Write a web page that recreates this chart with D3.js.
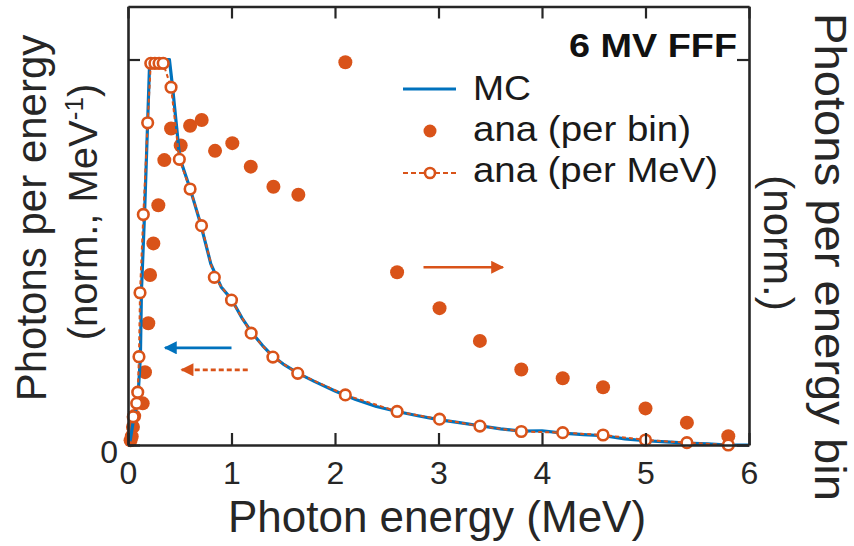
<!DOCTYPE html>
<html>
<head>
<meta charset="utf-8">
<script src="https://cdn.jsdelivr.net/npm/d3@7"></script>
<style>
  html, body { margin: 0; padding: 0; background: #fff; }
  svg { display: block; font-family: "Liberation Sans", Arial, sans-serif; }
</style>
</head>
<body>
<svg id="chart" width="854" height="546"></svg>
<script>
// MC spectrum, photons per MeV (normalised, left axis)
const mcEnergy = [0.02, 0.05, 0.08, 0.10, 0.12, 0.13, 0.16, 0.19, 0.21, 0.40, 0.43, 0.50, 0.60, 0.70, 0.80, 0.90, 1.00, 1.10, 1.20, 1.30, 1.40, 1.50, 1.65, 1.80, 2.00, 2.20, 2.40, 2.60, 2.80, 3.00, 3.20, 3.40, 3.60, 3.80, 4.00, 4.20, 4.40, 4.60, 4.80, 5.00, 5.20, 5.40, 5.60, 5.80, 6.00]
const mcValue = [0.01, 0.06, 0.10, 0.14, 0.23, 0.40, 0.60, 0.84, 1.00, 1.00, 0.93, 0.745, 0.665, 0.575, 0.47, 0.41, 0.378, 0.33, 0.29, 0.258, 0.23, 0.21, 0.185, 0.165, 0.14, 0.118, 0.10, 0.087, 0.076, 0.066, 0.058, 0.05, 0.042, 0.036, 0.037, 0.031, 0.027, 0.024, 0.016, 0.011, 0.008, 0.005, 0.003, 0.0, 0.0]

// analytical, photons per MeV (left axis)
const perMevEnergy = [0.05, 0.084, 0.094, 0.106, 0.116, 0.148, 0.19, 0.22, 0.26, 0.30, 0.34, 0.416, 0.496, 0.60, 0.71, 0.834, 1.0, 1.19, 1.40, 1.64, 2.10, 2.60, 3.01, 3.40, 3.80, 4.20, 4.59, 5.00, 5.40, 5.80]
const perMevValue = [0.073, 0.108, 0.137, 0.229, 0.395, 0.598, 0.836, 0.99, 0.99, 0.99, 0.99, 0.928, 0.741, 0.664, 0.569, 0.435, 0.376, 0.29, 0.228, 0.186, 0.13, 0.087, 0.067, 0.049, 0.035, 0.032, 0.026, 0.013, 0.006, 0.0]

// analytical, photons per energy bin (right axis)
const perBinEnergy = [0.025, 0.036, 0.048, 0.06, 0.142, 0.164, 0.196, 0.213, 0.245, 0.293, 0.351, 0.416, 0.509, 0.60, 0.712, 0.841, 1.008, 1.186, 1.405, 1.646, 2.10, 2.60, 3.01, 3.40, 3.80, 4.20, 4.59, 5.00, 5.40, 5.80]
const perBinValue = [0.012, 0.022, 0.047, 0.075, 0.108, 0.189, 0.316, 0.441, 0.523, 0.622, 0.739, 0.821, 0.777, 0.828, 0.843, 0.763, 0.783, 0.722, 0.67, 0.649, 0.993, 0.448, 0.355, 0.27, 0.196, 0.173, 0.15, 0.095, 0.058, 0.023]

const xTicks = [0, 1, 2, 3, 4, 5, 6]
const yTicks = [0, 1]

const blue = '#0072BD'
const orange = '#D95319'
const ink = '#262626'

const svg = d3.select('#chart')

const x = d3.scaleLinear().domain([0, 6]).range([128, 749])
const y = d3.scaleLinear().domain([0, 1.1375]).range([445, 6.5])
// right axis is normalised the same way
const yR = d3.scaleLinear().domain([0, 1.1375]).range([445, 6.5])

const mc = mcEnergy.map((e, i) => ({e, v: mcValue[i]}))
const perMev = perMevEnergy.map((e, i) => ({e, v: perMevValue[i]}))
const perBin = perBinEnergy.map((e, i) => ({e, v: perBinValue[i]}))

const defs = svg.append('defs')
const marker = (id, color) => {
  defs.append('marker')
    .attr('id', id)
    .attr('viewBox', '0 0 10 10')
    .attr('refX', 9).attr('refY', 5)
    .attr('markerWidth', 6).attr('markerHeight', 5)
    .attr('markerUnits', 'strokeWidth')
    .attr('orient', 'auto')
    .append('path')
    .attr('d', 'M0,0 L10,5 L0,10 Z')
    .attr('fill', color)
}
marker('arrBlue', blue)
marker('arrOrange', orange)

const plot = svg.append('g')

// per bin dots (right axis)
plot.selectAll('circle.bin')
  .data(perBin)
  .join('circle')
  .attr('class', 'bin')
  .attr('cx', (d) => x(d.e))
  .attr('cy', (d) => yR(d.v))
  .attr('r', 7)
  .attr('fill', orange)

// MC line
const line = d3.line().x((d) => x(d.e)).y((d) => y(d.v))
plot.append('path')
  .datum(mc)
  .attr('d', line)
  .attr('fill', 'none')
  .attr('stroke', blue)
  .attr('stroke-width', 3.2)
  .attr('stroke-linejoin', 'round')

// per MeV dashed line + open circles
plot.append('path')
  .datum(perMev)
  .attr('d', line)
  .attr('fill', 'none')
  .attr('stroke', orange)
  .attr('stroke-width', 2)
  .attr('stroke-dasharray', '4,3')

plot.selectAll('circle.mev')
  .data(perMev)
  .join('circle')
  .attr('class', 'mev')
  .attr('cx', (d) => x(d.e))
  .attr('cy', (d) => y(d.v))
  .attr('r', 5.3)
  .attr('fill', '#fff')
  .attr('stroke', orange)
  .attr('stroke-width', 2.6)

// arrows telling which axis belongs to which series
const arrows = [
  {from: [1.0, 0.252], to: [0.358, 0.252], color: blue, dash: null, m: 'arrBlue', scale: y},
  {from: [1.157, 0.195], to: [0.519, 0.195], color: orange, dash: '5,3', m: 'arrOrange', scale: y},
  {from: [2.855, 0.461], to: [3.622, 0.461], color: orange, dash: null, m: 'arrOrange', scale: yR},
]
plot.selectAll('line.arrow')
  .data(arrows)
  .join('line')
  .attr('class', 'arrow')
  .attr('x1', (d) => x(d.from[0]))
  .attr('y1', (d) => d.scale(d.from[1]))
  .attr('x2', (d) => x(d.to[0]))
  .attr('y2', (d) => d.scale(d.to[1]))
  .attr('stroke', (d) => d.color)
  .attr('stroke-width', 2.6)
  .attr('stroke-dasharray', (d) => d.dash)
  .attr('marker-end', (d) => `url(#${d.m})`)

// axes, ticks pointing inward, full box
const styleAxis = (g) => {
  g.selectAll('.domain').attr('stroke', ink).attr('stroke-width', 2.6)
  g.selectAll('.tick line').attr('stroke', ink).attr('stroke-width', 2.2)
  g.selectAll('.tick text').attr('fill', ink).attr('font-size', 32)
    .attr('font-family', '"Liberation Sans", Arial, sans-serif')
}

svg.append('g')
  .attr('transform', `translate(0,${y(0)})`)
  .call(d3.axisBottom(x).tickValues(xTicks).tickFormat(d3.format('d')).tickSizeInner(-12).tickSizeOuter(0).tickPadding(16))
  .call(styleAxis)

svg.append('g')
  .attr('transform', `translate(0,${y.range()[1]})`)
  .call(d3.axisTop(x).tickValues(xTicks).tickFormat('').tickSizeInner(-12).tickSizeOuter(0))
  .call(styleAxis)

svg.append('g')
  .attr('transform', `translate(${x(0)},0)`)
  .call(d3.axisLeft(y).tickValues(yTicks).tickFormat((d) => (d === 0 ? '0' : '')).tickSizeInner(-12).tickSizeOuter(0).tickPadding(10))
  .call(styleAxis)
  .call((g) => g.selectAll('.tick text').attr('dy', '0.55em'))

svg.append('g')
  .attr('transform', `translate(${x(6)},0)`)
  .call(d3.axisRight(yR).tickValues(yTicks).tickFormat('').tickSizeInner(-12).tickSizeOuter(0))
  .call(styleAxis)

// axis titles
svg.append('text')
  .attr('x', 437).attr('y', 532)
  .attr('text-anchor', 'middle')
  .attr('font-size', 44)
  .attr('fill', ink)
  .text('Photon energy (MeV)')

const leftTitle = svg.append('g').attr('transform', 'translate(0,218) rotate(-90)')
leftTitle.append('text')
  .attr('x', 0).attr('y', 46)
  .attr('text-anchor', 'middle')
  .attr('font-size', 42)
  .attr('fill', ink)
  .text('Photons per energy')
const lt2 = leftTitle.append('text')
  .attr('x', 6).attr('y', 97)
  .attr('text-anchor', 'middle')
  .attr('font-size', 40)
  .attr('fill', ink)
lt2.append('tspan').text('(norm., MeV')
lt2.append('tspan').attr('font-size', 26).attr('dy', -14).text('-1')
lt2.append('tspan').attr('dy', 14).text(')')

const rightTitle = svg.append('g').attr('transform', 'translate(852,257) rotate(90)')
rightTitle.append('text')
  .attr('x', 0).attr('y', 37)
  .attr('text-anchor', 'middle')
  .attr('font-size', 44)
  .attr('textLength', 488)
  .attr('lengthAdjust', 'spacingAndGlyphs')
  .attr('fill', ink)
  .text('Photons per energy bin')
rightTitle.append('text')
  .attr('x', -14).attr('y', 88)
  .attr('text-anchor', 'middle')
  .attr('font-size', 42)
  .attr('fill', ink)
  .text('(norm.)')

// beam label
svg.append('text')
  .attr('x', 737).attr('y', 57)
  .attr('text-anchor', 'end')
  .attr('font-size', 34)
  .attr('font-weight', 'bold')
  .attr('textLength', 168)
  .attr('lengthAdjust', 'spacingAndGlyphs')
  .attr('fill', '#111')
  .text('6 MV FFF')

// legend
const legendItems = [
  {label: 'MC', type: 'line', y: 89, base: 100, len: 58},
  {label: 'ana (per bin)', type: 'dot', y: 131, base: 141, len: 218},
  {label: 'ana (per MeV)', type: 'open', y: 173, base: 182, len: 245},
]
const legend = svg.append('g')
const item = legend.selectAll('g').data(legendItems).join('g')
item.filter((d) => d.type === 'line').append('line')
  .attr('x1', 403).attr('x2', 456).attr('y1', (d) => d.y).attr('y2', (d) => d.y)
  .attr('stroke', blue).attr('stroke-width', 3.2)
item.filter((d) => d.type === 'dot').append('circle')
  .attr('cx', 430).attr('cy', (d) => d.y).attr('r', 6.5).attr('fill', orange)
item.filter((d) => d.type === 'open').append('line')
  .attr('x1', 403).attr('x2', 456).attr('y1', (d) => d.y).attr('y2', (d) => d.y)
  .attr('stroke', orange).attr('stroke-width', 2).attr('stroke-dasharray', '5,3')
item.filter((d) => d.type === 'open').append('circle')
  .attr('cx', 430).attr('cy', (d) => d.y).attr('r', 5)
  .attr('fill', '#fff').attr('stroke', orange).attr('stroke-width', 2.6)
item.append('text')
  .attr('x', 473).attr('y', (d) => d.base)
  .attr('font-size', 35)
  .attr('textLength', (d) => d.len)
  .attr('lengthAdjust', 'spacingAndGlyphs')
  .attr('fill', '#1a1a1a')
  .text((d) => d.label)
</script>
</body>
</html>
